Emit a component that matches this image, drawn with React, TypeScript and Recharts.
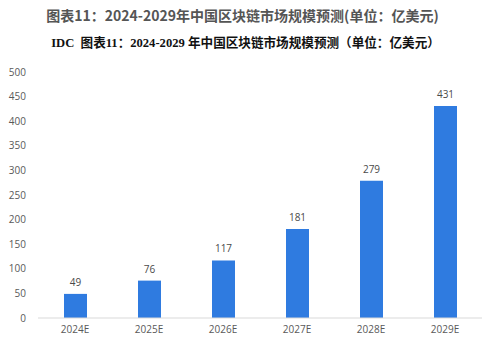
import React from "react";
import { BarChart, Bar, XAxis, YAxis, LabelList } from "recharts";

const categories = ["2024E", "2025E", "2026E", "2027E", "2028E", "2029E"];
const values = [49, 76, 117, 181, 279, 431];
const yTicks = [0, 50, 100, 150, 200, 250, 300, 350, 400, 450, 500];

const data = categories.map((c, i) => ({ name: c, value: values[i] }));

export default function App() {
  return (
    <div style={{ position: "absolute", left: 0, top: 0, width: 485, height: 345, background: "#fff" }}>
      <div
        style={{
          position: "absolute",
          left: 0,
          width: 485,
          top: 6,
          textAlign: "center",
          fontFamily: "'Noto Sans CJK SC', sans-serif",
          fontWeight: 700,
          fontSize: 14,
          color: "#555555",
          lineHeight: "18px",
          whiteSpace: "nowrap",
        }}
      >
        图表11：2024-2029年中国区块链市场规模预测(单位：亿美元)
      </div>
      <div
        style={{
          position: "absolute",
          left: 3,
          width: 485,
          top: 35,
          textAlign: "center",
          fontFamily: "'Liberation Serif', 'Noto Sans CJK SC', serif",
          fontWeight: 700,
          fontSize: 12.6,
          color: "#111111",
          lineHeight: "16px",
          whiteSpace: "pre",
        }}
      >
        {"IDC  图表11：2024-2029 年中国区块链市场规模预测（单位：亿美元）"}
      </div>
      <div style={{ position: "absolute", left: 0, top: 0 }}>
        <BarChart width={485} height={345} data={data} margin={{ top: 72, right: 3, bottom: 7, left: 0 }}>
          <XAxis
            dataKey="name"
            axisLine={{ stroke: "#d9d9d9" }}
            tickLine={false}
            height={20}
            tick={{ fill: "#595959", fontSize: 10, fontFamily: "'Open Sans', sans-serif" }}
          />
          <YAxis
            domain={[0, 500]}
            ticks={yTicks}
            axisLine={false}
            tickLine={false}
            width={38}
            tickMargin={6}
            tick={{ fill: "#595959", fontSize: 10, fontFamily: "'Open Sans', sans-serif" }}
          />
          <Bar dataKey="value" fill="#2f7be0" barSize={23} isAnimationActive={false}>
            <LabelList
              dataKey="value"
              position="top"
              offset={8}
              style={{ fill: "#4a4a4a", fontSize: 10, fontFamily: "'Open Sans', sans-serif" }}
            />
          </Bar>
        </BarChart>
      </div>
    </div>
  );
}
